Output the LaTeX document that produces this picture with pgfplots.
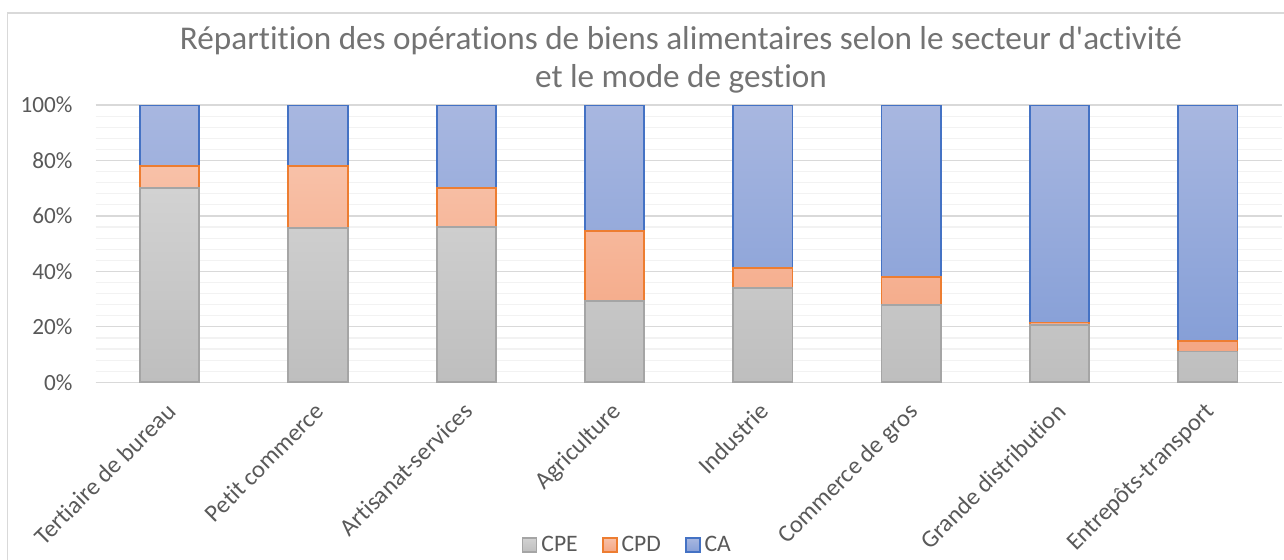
\documentclass[border=0pt]{standalone}
\usepackage{fontspec}
\setmainfont{Carlito}[Ligatures=NoCommon]
\newfontfamily\titlefont{Carlito}[Ligatures={NoCommon}, Mapping=]
\usepackage{pgfplots}
\pgfplotsset{compat=1.18}
\definecolor{txt}{RGB}{89,89,89}
\definecolor{titlec}{RGB}{115,115,115}
\definecolor{frame}{RGB}{217,217,217}
\definecolor{gridmaj}{RGB}{217,217,217}
\definecolor{gridmin}{RGB}{242,242,242}
\definecolor{cpeT}{RGB}{210,210,210}
\definecolor{cpeB}{RGB}{190,190,190}
\definecolor{cpeL}{RGB}{165,165,165}
\definecolor{cpdT}{RGB}{248,193,168}
\definecolor{cpdB}{RGB}{244,166,131}
\definecolor{cpdL}{RGB}{237,125,49}
\definecolor{caT}{RGB}{168,183,224}
\definecolor{caB}{RGB}{134,159,215}
\definecolor{caL}{RGB}{68,114,196}

\begin{document}
\begin{tikzpicture}[x=1pt,y=1pt]
\useasboundingbox (0,0) rectangle (642,280);
\draw[frame, line width=0.6pt] (3.6,-2) -- (3.6,273.5) -- (645,273.5);
\node[anchor=base, text=titlec, font=\titlefont\fontsize{16.6}{20}\selectfont] at (340.5,255)
  {Répartition des opérations de biens alimentaires selon le secteur d'activité};
\node[anchor=base, text=titlec, font=\titlefont\fontsize{16.6}{20}\selectfont] at (340.5,236)
  {et le mode de gestion};
\begin{axis}[
  at={(47.75pt,88.85pt)}, anchor=south west, scale only axis,
  width=593.25pt, height=138.6pt,
  ybar stacked, bar width=0.4,
  xmin=-0.5, xmax=7.5, ymin=0, ymax=100,
  xtick={0,...,7},
  xticklabels={Tertiaire de bureau, Petit commerce, Artisanat-services, Agriculture, Industrie, Commerce de gros, Grande distribution, Entrepôts-transport},
  ytick={0,20,...,100}, minor y tick num=4,
  yticklabel={\pgfmathprintnumber{\tick}\%},
  /pgf/number format/assume math mode=true,
  ymajorgrids, yminorgrids,
  major grid style={draw=gridmaj, line width=0.6pt},
  minor grid style={draw=gridmin, line width=0.6pt},
  axis lines*=left,
  x axis line style={draw=gridmaj, line width=0.6pt, -},
  y axis line style={draw=none},
  major tick length=0pt, minor tick length=0pt,
  tick style={draw=none},
  ticklabel style={font=\fontsize{11.6}{14}\selectfont, text=txt},
  yticklabel style={xshift=-8pt},
  xticklabel style={font=\fontsize{12.2}{14}\selectfont, xshift=-2.2pt, yshift=-7.8pt,
    rotate=45, anchor=north east, inner sep=1pt},
  legend style={at={(0.449,-0.587)}, anchor=center, draw=none, fill=none,
    legend columns=3, font=\fontsize{11.8}{14}\selectfont, text=txt,
    /tikz/every even column/.append style={column sep=10pt}},
  legend image code/.code={\draw[#1] (0pt,-3.5pt) rectangle (7pt,3.5pt);},
]
\addplot[draw=cpeL, line width=0.9pt, top color=cpeT, bottom color=cpeB]
  coordinates {(0,70) (1,55.6) (2,55.9) (3,29.4) (4,34.1) (5,27.9) (6,20.7) (7,11.1)};
\addplot[draw=cpdL, line width=0.9pt, top color=cpdT, bottom color=cpdB]
  coordinates {(0,8) (1,22.4) (2,14.1) (3,25.3) (4,7.2) (5,10) (6,0.9) (7,3.9)};
\addplot[draw=caL, line width=0.9pt, top color=caT, bottom color=caB]
  coordinates {(0,22) (1,22) (2,30) (3,45.3) (4,58.7) (5,62.1) (6,78.4) (7,85)};
\legend{CPE, CPD, CA}
\end{axis}
\end{tikzpicture}
\end{document}
